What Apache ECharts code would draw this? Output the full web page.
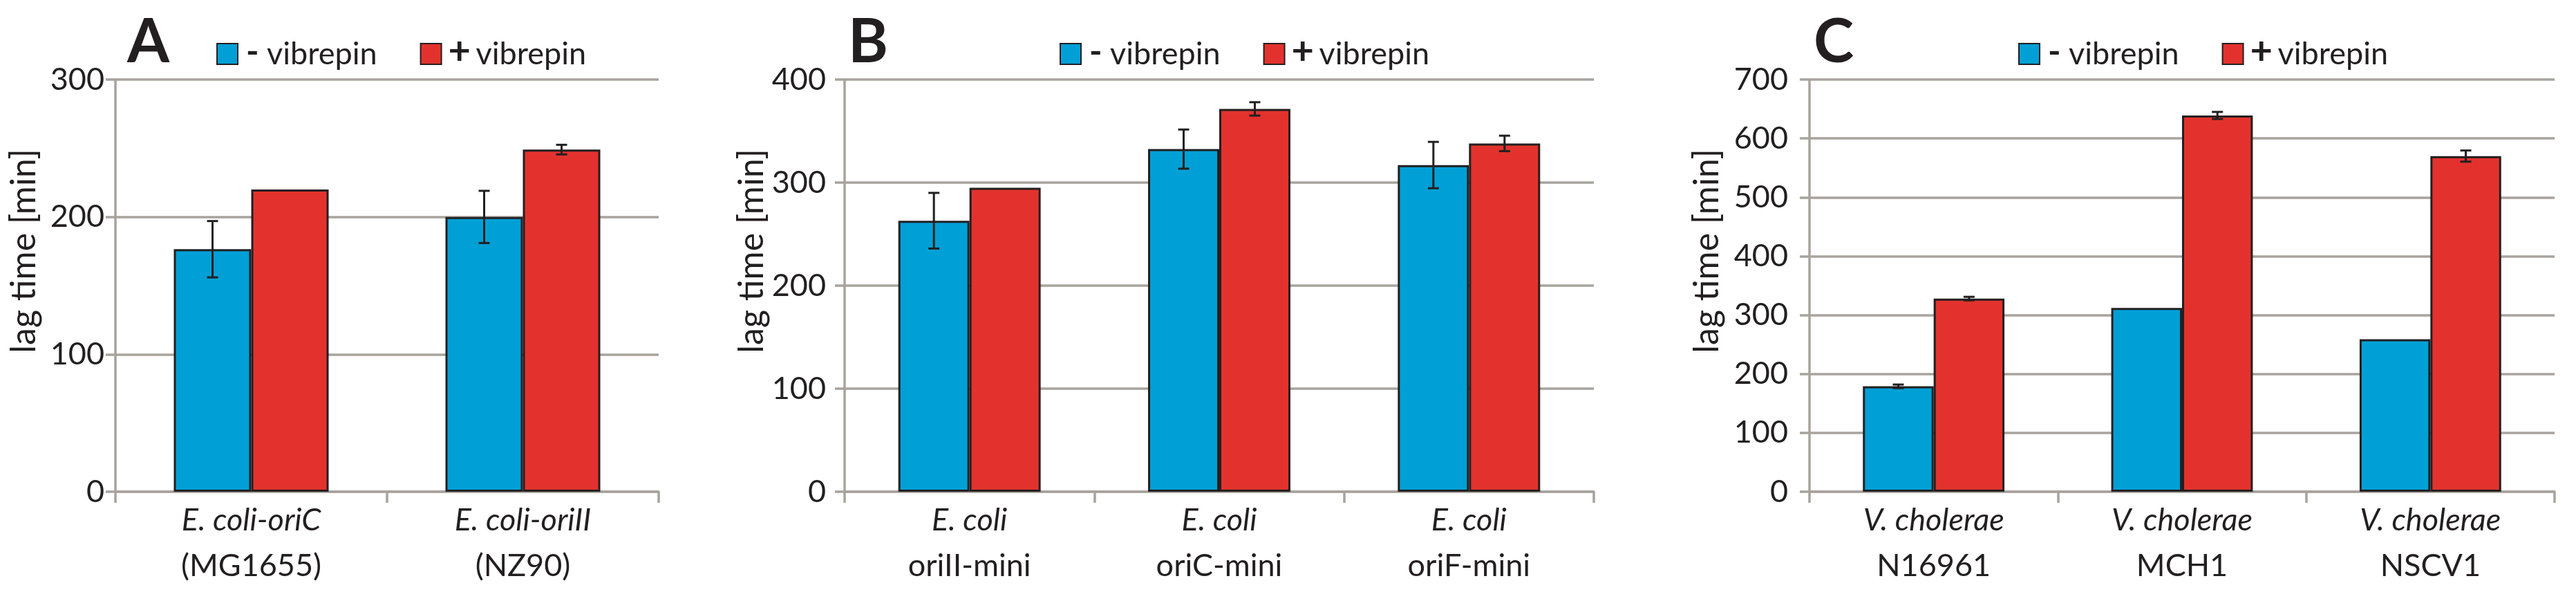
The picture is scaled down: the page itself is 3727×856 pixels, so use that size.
<!DOCTYPE html>
<html>
<head>
<meta charset="utf-8">
<script src="https://cdn.jsdelivr.net/npm/echarts@6/dist/echarts.min.js"></script>
<style>
  html, body { margin: 0; padding: 0; background: #fff; }
  #chart { width: 3727px; height: 856px; }
</style>
</head>
<body>
<div id="chart"></div>
<script>
// panel A
const catTopA = ['E. coli-oriC', 'E. coli-oriII']
const catBottomA = ['(MG1655)', '(NZ90)']
const minusA = [176.5, 200]
const plusA = [220, 249]
const errMinusA = [20.5, 19]
const errPlusA = [0, 3.5]

// panel B
const catTopB = ['E. coli', 'E. coli', 'E. coli']
const catBottomB = ['oriII-mini', 'oriC-mini', 'oriF-mini']
const minusB = [263, 332.5, 317]
const plusB = [295, 371.5, 338]
const errMinusB = [27, 19, 22.5]
const errPlusB = [0, 6.5, 7.5]

// panel C
const catTopC = ['V. cholerae', 'V. cholerae', 'V. cholerae']
const catBottomC = ['N16961', 'MCH1', 'NSCV1']
const minusC = [179, 312, 259]
const plusC = [328, 639, 570]
const errMinusC = [3, 0, 0]
const errPlusC = [3, 6, 9.5]

const panelLetters = ['A', 'B', 'C']
const yMax = [300, 400, 700]
const seriesNames = ['- vibrepin', '+ vibrepin']
const yName = 'lag time [min]'

const FONT = 'Lato, "Open Sans", sans-serif'
const TEXT = '#231f20'
const GRID = '#a8a39d'
const BLUE = '#00a0d6'
const RED = '#e3322d'
const BAR_PCT = 0.285

const panels = [
  { top: catTopA, bottom: catBottomA, minus: minusA, plus: plusA, eM: errMinusA, eP: errPlusA },
  { top: catTopB, bottom: catBottomB, minus: minusB, plus: plusB, eM: errMinusB, eP: errPlusB },
  { top: catTopC, bottom: catBottomC, minus: minusC, plus: plusC, eM: errMinusC, eP: errPlusC }
]

// layout in pixels
const grids = [
  { left: 167, top: 115, width: 786, height: 596 },
  { left: 1222, top: 115, width: 1084, height: 596 },
  { left: 2618, top: 115, width: 1078, height: 596 }
]
const letterLeft = [184, 1227, 2624]
const legendLeft = [313, 1533, 2920]
const labelMargin = [16, 27, 31]
const nameGap = [107, 105, 123]

function errorItem(side) {
  return function (params, api) {
    const idx = api.value(0)
    const val = api.value(1)
    const err = api.value(2)
    if (!err) return { type: 'group', children: [] }
    const band = api.size([1, 0])[0]
    const bw = band * BAR_PCT
    const x = api.coord([idx, val])[0] + side * bw / 2
    const hi = api.coord([idx, val + err])[1]
    const lo = api.coord([idx, val - err])[1]
    const cap = 8
    const style = { stroke: TEXT, lineWidth: 3 }
    return {
      type: 'group',
      children: [
        { type: 'line', shape: { x1: x, y1: hi, x2: x, y2: lo }, style },
        { type: 'line', shape: { x1: x - cap, y1: hi, x2: x + cap, y2: hi }, style },
        { type: 'line', shape: { x1: x - cap, y1: lo, x2: x + cap, y2: lo }, style }
      ]
    }
  }
}

const option = {
  animation: false,
  backgroundColor: '#fff',
  textStyle: { fontFamily: FONT },
  title: panelLetters.map((t, i) => ({
    text: t,
    left: letterLeft[i],
    top: 18,
    padding: 0,
    textStyle: { fontFamily: FONT, fontSize: 88, fontWeight: 'bold', color: TEXT }
  })),
  legend: legendLeft.map(l => ({
    left: l,
    top: 47,
    padding: 0,
    itemWidth: 30,
    itemHeight: 30,
    itemGap: 62,
    icon: 'rect',
    data: seriesNames,
    formatter: name => (name.charAt(0) === '+' ? '{p|+}' : '{m|-}') + '{t|' + name.slice(2) + '}',
    textStyle: {
      rich: {
        m: { fontFamily: FONT, fontSize: 50, fontWeight: 'bold', color: TEXT, width: 30, padding: [0, 0, 4, 7] },
        p: { fontFamily: FONT, fontSize: 56, fontWeight: 'bold', color: TEXT, width: 40, padding: [0, 0, 6, 5] },
        t: { fontFamily: FONT, fontSize: 45, color: TEXT }
      }
    }
  })),
  grid: grids,
  xAxis: panels.map((p, i) => ({
    type: 'category',
    gridIndex: i,
    data: p.top.map((t, k) => t + '\n' + p.bottom[k]),
    axisLine: { lineStyle: { color: GRID, width: 3.5 } },
    axisTick: { show: true, length: 16, lineStyle: { color: GRID, width: 3.5 } },
    axisLabel: {
      margin: 8,
      interval: 0,
      formatter: v => {
        const parts = v.split('\n')
        return '{i|' + parts[0] + '}\n{n|' + parts[1] + '}'
      },
      rich: {
        i: { fontFamily: FONT, fontSize: 45, fontStyle: 'italic', color: TEXT, lineHeight: 66 },
        n: { fontFamily: FONT, fontSize: 45, color: TEXT, lineHeight: 66 }
      }
    }
  })),
  yAxis: panels.map((p, i) => ({
    type: 'value',
    gridIndex: i,
    min: 0,
    max: yMax[i],
    interval: 100,
    name: yName,
    nameLocation: 'middle',
    nameGap: nameGap[i],
    nameTextStyle: { fontFamily: FONT, fontSize: 50, color: TEXT, padding: [0, 0, 0, 100] },
    axisLine: { show: true, lineStyle: { color: GRID, width: 3.5 } },
    axisTick: { show: true, length: 14, lineStyle: { color: GRID, width: 3.5 } },
    axisLabel: { fontFamily: FONT, fontSize: 45, color: TEXT, margin: labelMargin[i] },
    splitLine: { show: true, lineStyle: { color: GRID, width: 3.5 } }
  })),
  series: []
}

panels.forEach((p, i) => {
  const barStyle = c => ({ color: c, borderColor: TEXT, borderWidth: 3 })
  option.series.push(
    {
      name: seriesNames[0], type: 'bar', xAxisIndex: i, yAxisIndex: i,
      barWidth: (BAR_PCT * 100) + '%', barGap: '0%',
      itemStyle: barStyle(BLUE), data: p.minus
    },
    {
      name: seriesNames[1], type: 'bar', xAxisIndex: i, yAxisIndex: i,
      barWidth: (BAR_PCT * 100) + '%', barGap: '0%',
      itemStyle: barStyle(RED), data: p.plus
    },
    {
      name: 'err-', type: 'custom', xAxisIndex: i, yAxisIndex: i, z: 10,
      renderItem: errorItem(-1), encode: { x: 0, y: 1 },
      data: p.minus.map((v, k) => [k, v, p.eM[k]])
    },
    {
      name: 'err+', type: 'custom', xAxisIndex: i, yAxisIndex: i, z: 10,
      renderItem: errorItem(1), encode: { x: 0, y: 1 },
      data: p.plus.map((v, k) => [k, v, p.eP[k]])
    }
  )
})

const chart = echarts.init(document.getElementById('chart'))
chart.setOption(option)
</script>
</body>
</html>
